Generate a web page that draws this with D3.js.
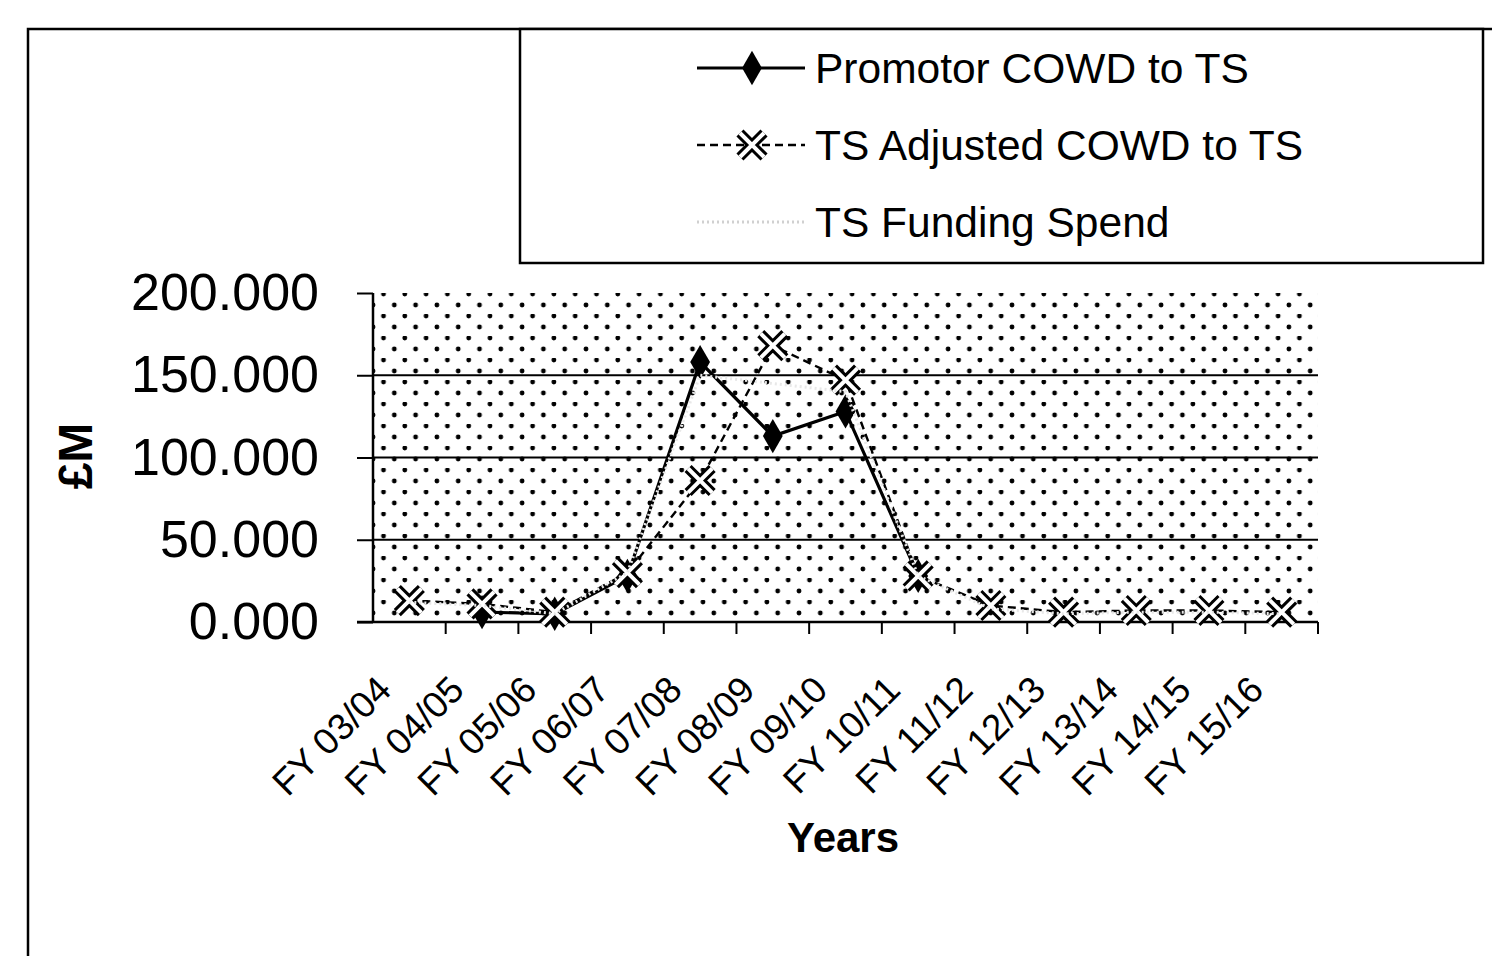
<!DOCTYPE html>
<html>
<head>
<meta charset="utf-8">
<script src="https://cdn.jsdelivr.net/npm/d3@7"></script>
<style>
  body { margin: 0; background: #fff; }
  svg { display: block; font-family: "Liberation Sans", Arial, sans-serif; }
</style>
</head>
<body>
<svg width="1492" height="956"></svg>
<script>
// chart data
var categories = ["FY 03/04", "FY 04/05", "FY 05/06", "FY 06/07", "FY 07/08", "FY 08/09",
  "FY 09/10", "FY 10/11", "FY 11/12", "FY 12/13", "FY 13/14", "FY 14/15", "FY 15/16"];
var promotorCowd = [null, 6, 5, 28, 158, 113, 128, 28, null, null, null, null, null];
var adjustedCowd = [13, 11, 6, 30, 86, 168, 147, 28, 10, 6, 7, 7, 6];
var fundingSpend = [12, 10, 5, 30, 150, 145, 140, 28, 8, 5, 6, 6, 5];
var yTicks = [0, 50, 100, 150, 200];
var seriesNames = ["Promotor COWD to TS", "TS Adjusted COWD to TS", "TS Funding Spend"];

var svg = d3.select("svg");
var plot = {left: 373, right: 1318, top: 293, bottom: 622};

// outer chart frame (runs off the page right & bottom)
svg.append("rect")
  .attr("x", 28).attr("y", 29).attr("width", 1500).attr("height", 960)
  .attr("fill", "none").attr("stroke", "#000").attr("stroke-width", 2.5);

// dotted plot background
var defs = svg.append("defs");
var pat = defs.append("pattern")
  .attr("id", "dots")
  .attr("patternUnits", "userSpaceOnUse")
  .attr("x", plot.left).attr("y", plot.top - 1)
  .attr("width", 21.3).attr("height", 22);
pat.append("rect").attr("width", 21.3).attr("height", 22).attr("fill", "#fff");
pat.append("circle").attr("cx", 10.5).attr("cy", 2).attr("r", 2.4).attr("fill", "#000");
pat.append("circle").attr("cx", 0).attr("cy", 13).attr("r", 2.4).attr("fill", "#000");
pat.append("circle").attr("cx", 21.3).attr("cy", 13).attr("r", 2.4).attr("fill", "#000");

var x = d3.scaleBand().domain(categories).range([plot.left, plot.right]);
var y = d3.scaleLinear().domain([0, 200]).range([plot.bottom, plot.top]);

svg.append("rect")
  .attr("x", plot.left).attr("y", plot.top)
  .attr("width", plot.right - plot.left).attr("height", plot.bottom - plot.top)
  .attr("fill", "url(#dots)");

// gridlines
svg.append("g")
  .selectAll("line")
  .data(yTicks.filter(function (d) { return d > 0 && d < 200; }))
  .enter().append("line")
  .attr("x1", plot.left).attr("x2", plot.right)
  .attr("y1", function (d) { return y(d); })
  .attr("y2", function (d) { return y(d); })
  .attr("stroke", "#000").attr("stroke-width", 2.2);

// y axis
var yAxis = svg.append("g")
  .attr("transform", "translate(" + plot.left + ",0)")
  .call(d3.axisLeft(y).tickValues(yTicks).tickSize(16).tickPadding(38)
    .tickFormat(d3.format(".3f")));
yAxis.select(".domain").attr("stroke-width", 2.5).attr("d", "M0," + plot.top + "V" + plot.bottom);
yAxis.selectAll(".tick line").attr("stroke-width", 2);
yAxis.selectAll("text").attr("font-size", 52).attr("fill", "#000")
  .attr("font-family", "Liberation Sans, Arial, sans-serif");

// x axis (ticks on band boundaries)
var xAxis = svg.append("g").attr("transform", "translate(0," + plot.bottom + ")");
xAxis.append("line")
  .attr("x1", plot.left - 16).attr("x2", plot.right)
  .attr("stroke", "#000").attr("stroke-width", 2.5);
xAxis.selectAll(".xt")
  .data(categories)
  .enter().append("line")
  .attr("class", "xt")
  .attr("x1", function (d) { return x(d) + x.bandwidth(); })
  .attr("x2", function (d) { return x(d) + x.bandwidth(); })
  .attr("y1", 0).attr("y2", 12)
  .attr("stroke", "#000").attr("stroke-width", 2);
xAxis.selectAll(".xl")
  .data(categories)
  .enter().append("text")
  .attr("class", "xl")
  .attr("transform", function (d) {
    return "translate(" + (x(d) + x.bandwidth() / 2 - 16) + ",70) rotate(-45)";
  })
  .attr("text-anchor", "end")
  .attr("font-size", 37)
  .text(function (d) { return d; });

// axis titles
svg.append("text")
  .attr("x", 843).attr("y", 852)
  .attr("text-anchor", "middle")
  .attr("font-size", 42).attr("font-weight", "bold")
  .text("Years");
svg.append("text")
  .attr("transform", "translate(92,456) rotate(-90)")
  .attr("text-anchor", "middle")
  .attr("font-size", 48).attr("font-weight", "bold")
  .text("£M");

// lines
function lineFor(values) {
  return d3.line()
    .defined(function (d) { return d != null; })
    .x(function (d, i) { return x(categories[i]) + x.bandwidth() / 2; })
    .y(function (d) { return y(d); })(values);
}

var diamond = d3.symbol().type(d3.symbolDiamond).size(340);
var cross = d3.symbol().type(d3.symbolX).size(380);

function drawCross(sel) {
  sel.append("path").attr("d", cross).attr("fill", "none")
    .attr("stroke", "#000").attr("stroke-width", 10);
  sel.append("path").attr("d", cross).attr("fill", "none")
    .attr("stroke", "#fff").attr("stroke-width", 4);
}

svg.append("path")
  .attr("d", lineFor(promotorCowd))
  .attr("fill", "none").attr("stroke", "#000").attr("stroke-width", 3.2);

svg.append("path")
  .attr("d", lineFor(adjustedCowd))
  .attr("fill", "none").attr("stroke", "#000").attr("stroke-width", 2.4)
  .attr("stroke-dasharray", "8,5");

svg.append("g").selectAll("path")
  .data(promotorCowd.map(function (v, i) { return {v: v, c: categories[i]}; })
    .filter(function (d) { return d.v != null; }))
  .enter().append("path")
  .attr("d", diamond)
  .attr("transform", function (d) {
    return "translate(" + (x(d.c) + x.bandwidth() / 2) + "," + y(d.v) + ")";
  })
  .attr("fill", "#000");

svg.append("g").selectAll("g")
  .data(adjustedCowd.map(function (v, i) { return {v: v, c: categories[i]}; }))
  .enter().append("g")
  .attr("transform", function (d) {
    return "translate(" + (x(d.c) + x.bandwidth() / 2) + "," + y(d.v) + ")";
  })
  .call(drawCross);

svg.append("path")
  .attr("d", lineFor(fundingSpend))
  .attr("fill", "none").attr("stroke", "#e8e8e8").attr("stroke-width", 3)
  .attr("stroke-dasharray", "2,3");

// legend
var legend = svg.append("g");
legend.append("rect")
  .attr("x", 520).attr("y", 29).attr("width", 963).attr("height", 234)
  .attr("fill", "#fff").attr("stroke", "#000").attr("stroke-width", 2.5);
var rowsY = [68, 145, 222];
var styles = [
  {w: 3.2, dash: null, color: "#000"},
  {w: 2.4, dash: "8,5", color: "#000"},
  {w: 3, dash: "2,3", color: "#d0d0d0"}
];
seriesNames.forEach(function (name, i) {
  var row = legend.append("g").attr("transform", "translate(0," + rowsY[i] + ")");
  row.append("line")
    .attr("x1", 697).attr("x2", 805)
    .attr("stroke", styles[i].color).attr("stroke-width", styles[i].w)
    .attr("stroke-dasharray", styles[i].dash);
  if (i === 0) {
    row.append("path").attr("d", diamond).attr("transform", "translate(752,0)").attr("fill", "#000");
  } else if (i === 1) {
    row.append("g").attr("transform", "translate(752,0)").call(drawCross);
  }
  row.append("text")
    .attr("x", 815).attr("dy", "0.35em")
    .attr("font-size", 42.5)
    .text(name);
});
</script>
</body>
</html>
